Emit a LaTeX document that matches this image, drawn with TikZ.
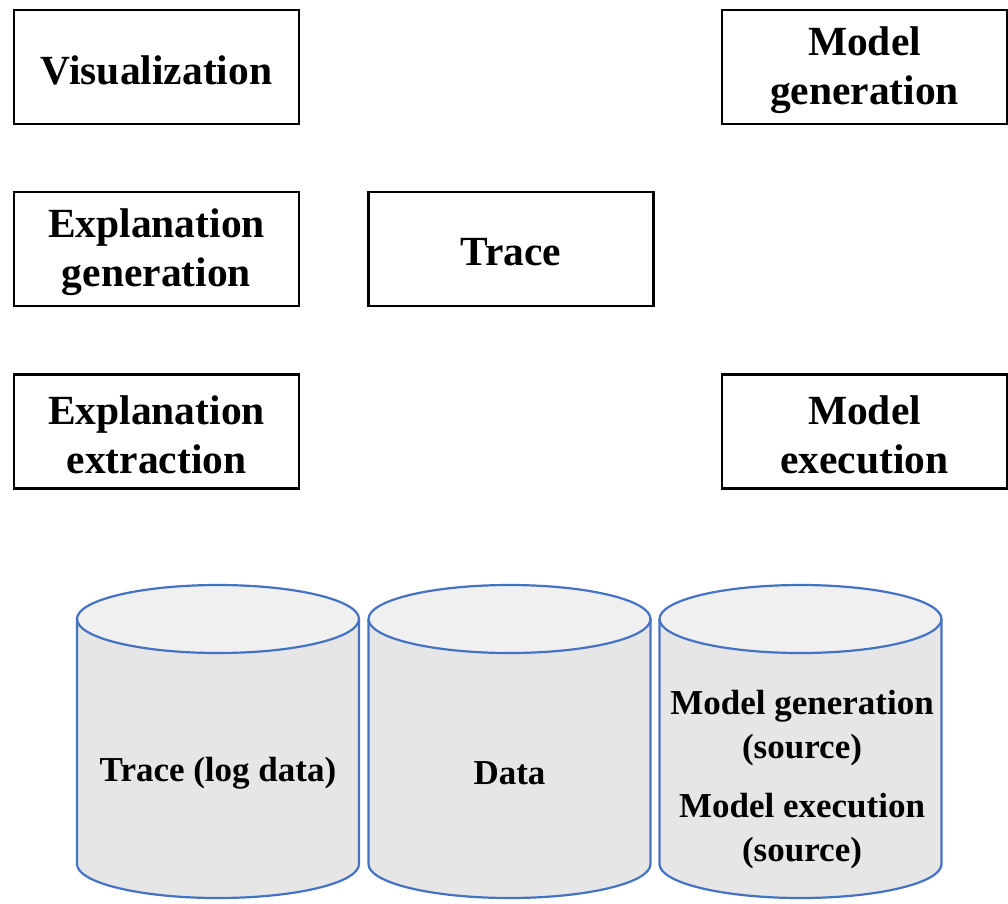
\documentclass[tikz,border=0pt]{standalone}
\usepackage{fontspec}
\setmainfont{Liberation Serif}
\definecolor{cylblue}{HTML}{4472C4}
\definecolor{cylbody}{HTML}{E6E6E6}
\definecolor{cyltop}{HTML}{F0F0F0}
\begin{document}
\begin{tikzpicture}[x=1pt,y=-1pt,
  box/.style={draw=black,line width=2.5pt,minimum width=285pt,minimum height=114pt,inner sep=0pt},
  boxtext/.style={align=center,font=\fontsize{41.5}{49}\selectfont\bfseries,inner sep=0pt},
  cylline/.style={cylblue,line width=2.2pt},
  cyltext/.style={align=center,font=\fontsize{35}{44}\selectfont\bfseries,inner sep=0pt}]
\useasboundingbox (0,0) rectangle (1008,903);
\node[box] (vis) at (156.5,67) {};
\node[boxtext] (vist) at (156.5,70) {Visualization};
\node[box] (mgen) at (864.5,67) {};
\node[boxtext] (mgent) at (864.5,70) {Model\\generation};
\node[box] (egen) at (156.5,249) {};
\node[boxtext] (egent) at (156.5,252) {Explanation\\generation};
\node[box] (trace) at (511,249) {};
\node[boxtext] (tracet) at (511,252) {Trace};
\node[box] (eext) at (156.5,431.5) {};
\node[boxtext] (eextt) at (156.5,434.5) {Explanation\\extraction};
\node[box] (mexe) at (864.5,431.5) {};
\node[boxtext] (mexet) at (864.5,434.5) {Model\\execution};
% cylinders
\foreach \cx in {218,509.5,800.5}{
  \fill[cylbody] (\cx-141,619) -- (\cx-141,864) arc[start angle=180,end angle=0,x radius=141,y radius=34] -- (\cx+141,619) -- cycle;
  \draw[cylline,fill=cyltop] (\cx,619) ellipse[x radius=141,y radius=34];
  \draw[cylline] (\cx-141,619) -- (\cx-141,864) arc[start angle=180,end angle=0,x radius=141,y radius=34] -- (\cx+141,619);
}
\node[cyltext] (c1) at (218,773) {Trace (log data)};
\node[cyltext] (c2) at (509.5,773) {Data};
\node[cyltext] (c3a) at (802,728) {Model generation\\(source)};
\node[cyltext] (c3b) at (802,831) {Model execution\\(source)};
\end{tikzpicture}
\end{document}
